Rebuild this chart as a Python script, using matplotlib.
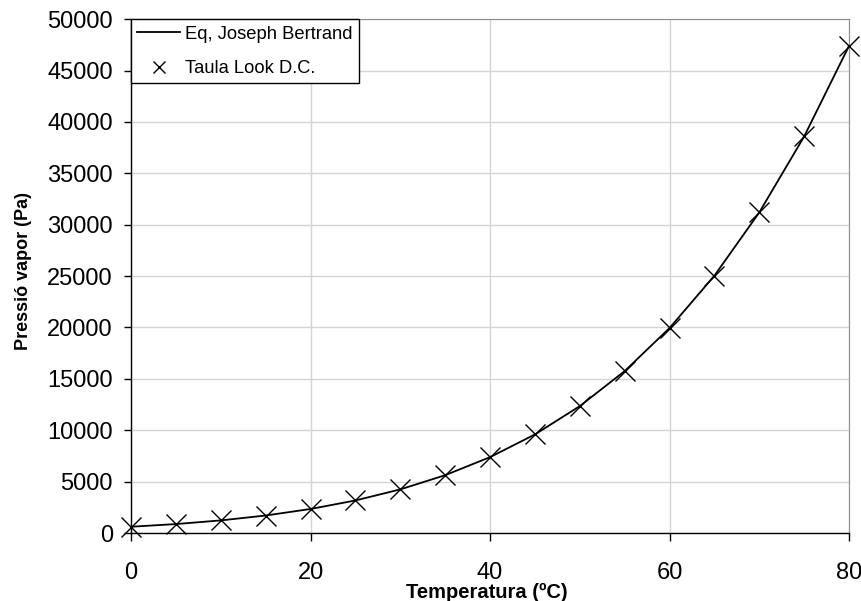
import matplotlib
matplotlib.use("Agg")
import matplotlib.pyplot as plt
from matplotlib.lines import Line2D

plt.rcParams['font.family'] = ['Liberation Sans', 'DejaVu Sans']

# temperatures (C) and vapour pressure (Pa)
temp = [0, 5, 10, 15, 20, 25, 30, 35, 40, 45, 50, 55, 60, 65, 70, 75, 80]
p_equation = [611, 872, 1228, 1705, 2339, 3169, 4246, 5628, 7384, 9593,
              12349, 15758, 19946, 25042, 31201, 38595, 47414]
p_table = [611, 872, 1228, 1705, 2339, 3169, 4246, 5628, 7384, 9593,
           12349, 15758, 19946, 25042, 31201, 38595, 47414]

fig = plt.figure(figsize=(8.62, 6.01), dpi=100)
ax = fig.add_axes([0.152, 0.1131, 0.833, 0.855])

ax.plot(temp, p_equation, color='black', lw=1.3, label='Eq, Joseph Bertrand')
ax.plot(temp, p_table, ls='none', marker='x', ms=14, mew=1.0, color='black',
        clip_on=False, zorder=5, label='Taula Look D.C.')

ax.set_xlim(0, 80)
ax.set_ylim(0, 50000)
ax.set_xticks(range(0, 81, 20))
ax.set_yticks(range(0, 50001, 5000))
ax.grid(True, color='#d4d4d4', lw=1)
ax.set_axisbelow(True)

for s in ['top', 'right']:
    ax.spines[s].set_color('#8c8c8c')
for s in ['left', 'bottom']:
    ax.spines[s].set_color('black')
    ax.spines[s].set_linewidth(1.0)

ax.tick_params(axis='y', direction='out', length=5, width=1, labelsize=17, pad=8)
ax.tick_params(axis='x', direction='out', length=6, width=1, labelsize=17, pad=15)

ax.set_xlabel('Temperatura (ºC)', fontsize=14.5, fontweight='bold')
ax.set_ylabel('Pressió vapor (Pa)', fontsize=13, fontweight='bold')
ax.xaxis.set_label_coords(0.495, -0.115)
ax.xaxis.label.set_va('center')
ax.yaxis.set_label_coords(-0.150, 0.51)
ax.yaxis.label.set_va('center')

handles = [Line2D([], [], color='black', lw=1.3),
           Line2D([], [], ls='none', marker='x', ms=9, mew=1.0, color='black')]
leg = ax.legend(handles, ['Eq, Joseph Bertrand', 'Taula Look D.C.'],
                loc='upper left', borderaxespad=0, fontsize=13.2,
                fancybox=False, framealpha=1, edgecolor='black',
                handlelength=2.3, handletextpad=0.3, labelspacing=0.95,
                borderpad=0.35)
leg.get_frame().set_linewidth(1.0)

fig.savefig('out.png', dpi=100)
